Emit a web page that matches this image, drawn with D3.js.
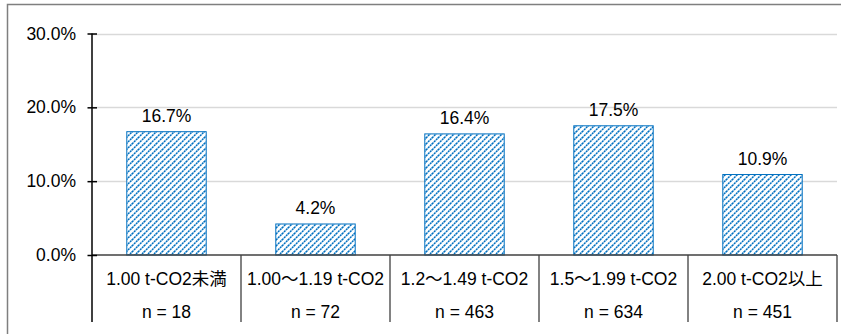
<!DOCTYPE html>
<html>
<head>
<meta charset="utf-8">
<script src="https://cdn.jsdelivr.net/npm/d3@7"></script>
<style>
  html, body { margin: 0; padding: 0; background: #fff; }
  svg { display: block; }
  text { font-family: "Liberation Sans", Arial, "Noto Sans CJK JP", sans-serif; fill: #000; }
</style>
</head>
<body>
<svg id="chart" width="841" height="334"></svg>
<script>
// Share of households by CO2 emission band
const categories = ["1.00 t-CO2未満", "1.00～1.19 t-CO2", "1.2～1.49 t-CO2", "1.5～1.99 t-CO2", "2.00 t-CO2以上"];
const sampleSizes = ["n = 18", "n = 72", "n = 463", "n = 634", "n = 451"];
const shares = [0.167, 0.042, 0.164, 0.175, 0.109];
const yTicks = [0, 0.1, 0.2, 0.3];

const svg = d3.select("#chart");
const W = 841, H = 334;
const plot = { left: 92, right: 837, top: 33.5, bottom: 255 };
const tableBottom = 322;
const blue = "#0070C0";
const fontSize = 17.5;

// Hatched fill: dotted diagonals rising to the right
const defs = svg.append("defs");
const pat = defs.append("pattern")
  .attr("id", "hatch")
  .attr("patternUnits", "userSpaceOnUse")
  .attr("width", 6).attr("height", 6);
pat.append("rect").attr("width", 6).attr("height", 6).attr("fill", "#fff");
pat.append("path")
  .attr("d", "M0,6 L6,0 M-1,1 L1,-1 M5,7 L7,5")
  .attr("stroke", blue).attr("stroke-width", 1.5)
  .attr("stroke-dasharray", "2.1,0.73");

// Outer frame (open on the right and bottom)
svg.append("path")
  .attr("d", `M7.5,${H + 2} V4.5 H${W + 2}`)
  .attr("fill", "none").attr("stroke", "#7f7f7f").attr("stroke-width", 1.5);

const x = d3.scaleBand().domain(categories).range([plot.left, plot.right]).padding(0);
const y = d3.scaleLinear().domain([0, 0.3]).range([plot.bottom, plot.top]);
const barFrac = 0.533;

// Gridlines
svg.append("g").selectAll("line")
  .data(yTicks.filter(d => d > 0))
  .join("line")
  .attr("x1", plot.left).attr("x2", plot.right)
  .attr("y1", d => Math.round(y(d)) + 0.5).attr("y2", d => Math.round(y(d)) + 0.5)
  .attr("stroke", "#d9d9d9").attr("stroke-width", 1.5);

// Bars
const barW = x.step() * barFrac;
svg.append("g").selectAll("rect")
  .data(categories)
  .join("rect")
  .attr("x", (c) => x(c) + (x.step() - barW) / 2)
  .attr("y", (c, i) => y(shares[i]))
  .attr("width", barW)
  .attr("height", (c, i) => y(0) - y(shares[i]))
  .attr("fill", "url(#hatch)")
  .attr("stroke", blue).attr("stroke-width", 1);

// Value labels
svg.append("g").selectAll("text")
  .data(categories)
  .join("text")
  .attr("x", c => x(c) + x.step() / 2)
  .attr("y", (c, i) => y(shares[i]) - 10)
  .attr("text-anchor", "middle")
  .attr("font-size", fontSize)
  .text((c, i) => (shares[i] * 100).toFixed(1) + "%");

// Category table below the axis
const cells = svg.append("g");
cells.selectAll("line.div")
  .data(categories.slice(1).concat(["end"]))
  .join("line")
  .attr("class", "div")
  .attr("x1", (c, i) => plot.left + x.step() * (i + 1))
  .attr("x2", (c, i) => plot.left + x.step() * (i + 1))
  .attr("y1", plot.bottom).attr("y2", tableBottom)
  .attr("stroke", "#595959").attr("stroke-width", 1.5);

cells.selectAll("text.cat")
  .data(categories)
  .join("text")
  .attr("class", "cat")
  .attr("x", c => x(c) + x.step() / 2)
  .attr("y", 285)
  .attr("text-anchor", "middle")
  .attr("font-size", fontSize)
  .text(c => c);

cells.selectAll("text.n")
  .data(sampleSizes)
  .join("text")
  .attr("class", "n")
  .attr("x", (d, i) => x(categories[i]) + x.step() / 2)
  .attr("y", 318)
  .attr("text-anchor", "middle")
  .attr("font-size", fontSize)
  .text(d => d);

// Baseline
svg.append("line")
  .attr("x1", plot.left).attr("x2", plot.right)
  .attr("y1", y(0)).attr("y2", y(0))
  .attr("stroke", "#404040").attr("stroke-width", 1.5);

// Y axis
const yAxis = d3.axisLeft(y)
  .tickValues(yTicks)
  .tickFormat(d => (d * 100).toFixed(1) + "%")
  .tickSize(0)
  .tickPadding(16);
const ag = svg.append("g").attr("transform", `translate(${plot.left},0)`).call(yAxis);
ag.select(".domain").remove();
ag.selectAll("text").attr("font-size", fontSize).attr("fill", "#000")
  .style("font-family", '"Liberation Sans", Arial, sans-serif');
ag.selectAll(".tick").append("line")
  .attr("x1", -4.5).attr("x2", 5).attr("stroke", "#000").attr("stroke-width", 1.5);
ag.append("line")
  .attr("x1", 0).attr("x2", 0)
  .attr("y1", plot.top).attr("y2", tableBottom)
  .attr("stroke", "#000").attr("stroke-width", 1.5);
</script>
</body>
</html>
